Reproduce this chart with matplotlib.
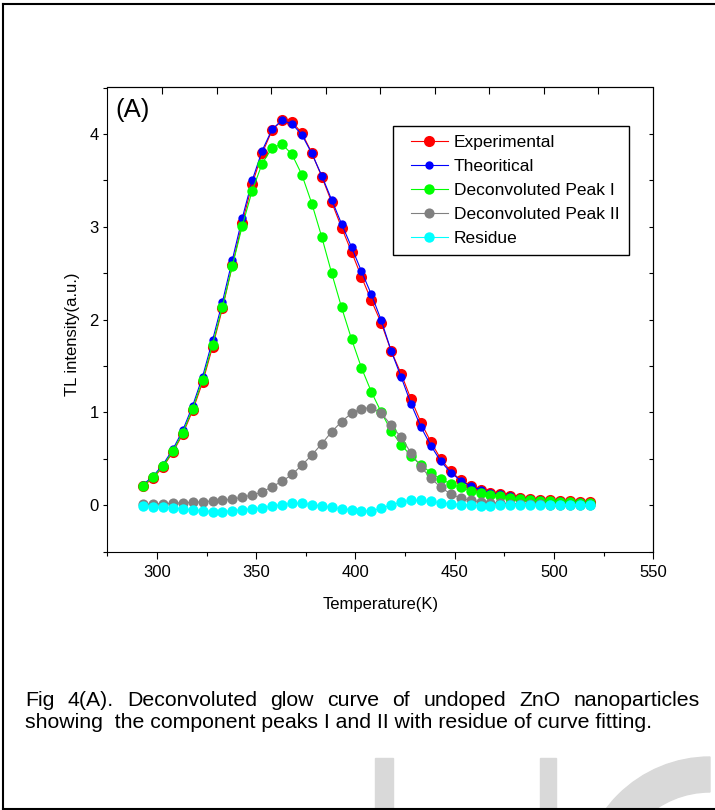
import numpy as np
import matplotlib.pyplot as plt
from matplotlib.patches import Rectangle, Wedge
from matplotlib.lines import Line2D
from matplotlib.legend_handler import HandlerLine2D
from matplotlib.ticker import MultipleLocator

plt.rcParams['font.family'] = ['Liberation Sans', 'DejaVu Sans']

# temperature grid (K)
temp = [293, 298, 303, 308, 313, 318, 323, 328, 333, 338, 343, 348, 353, 358, 363, 368,
        373, 378, 383, 388, 393, 398, 403, 408, 413, 418, 423, 428, 433, 438, 443, 448,
        453, 458, 463, 468, 473, 478, 483, 488, 493, 498, 503, 508, 513, 518]

experimental = [0.205, 0.29, 0.41, 0.57, 0.765, 1.02, 1.325, 1.705, 2.12, 2.585, 3.045, 3.46,
                3.79, 4.04, 4.15, 4.13, 4.01, 3.795, 3.54, 3.265, 2.99, 2.73, 2.46, 2.205,
                1.96, 1.66, 1.415, 1.14, 0.89, 0.68, 0.495, 0.365, 0.27, 0.205, 0.16, 0.13,
                0.115, 0.10, 0.08, 0.07, 0.06, 0.05, 0.045, 0.04, 0.035, 0.03]

theoretical = [0.22, 0.31, 0.435, 0.60, 0.805, 1.07, 1.385, 1.775, 2.19, 2.645, 3.095, 3.50,
               3.82, 4.05, 4.145, 4.11, 3.99, 3.79, 3.55, 3.29, 3.03, 2.78, 2.52, 2.27,
               1.99, 1.66, 1.38, 1.09, 0.84, 0.64, 0.47, 0.35, 0.265, 0.205, 0.165, 0.135,
               0.115, 0.095, 0.075, 0.065, 0.055, 0.045, 0.04, 0.035, 0.03, 0.025]

peak1 = [0.21, 0.30, 0.42, 0.58, 0.78, 1.04, 1.35, 1.73, 2.14, 2.58, 3.01, 3.39,
         3.68, 3.85, 3.89, 3.78, 3.56, 3.25, 2.89, 2.50, 2.13, 1.79, 1.48, 1.22,
         1.00, 0.80, 0.65, 0.53, 0.43, 0.35, 0.28, 0.23, 0.19, 0.155, 0.13, 0.11,
         0.095, 0.08, 0.065, 0.055, 0.045, 0.04, 0.035, 0.03, 0.025, 0.02]

peak2 = [0.01, 0.01, 0.015, 0.02, 0.025, 0.03, 0.035, 0.045, 0.05, 0.065, 0.085, 0.11,
         0.14, 0.20, 0.255, 0.33, 0.43, 0.54, 0.66, 0.79, 0.90, 0.99, 1.04, 1.05,
         0.99, 0.86, 0.73, 0.56, 0.41, 0.29, 0.19, 0.12, 0.075, 0.05, 0.035, 0.025,
         0.02, 0.015, 0.01, 0.01, 0.01, 0.005, 0.005, 0.005, 0.005, 0.005]

residue = [-0.015, -0.02, -0.025, -0.03, -0.04, -0.05, -0.06, -0.07, -0.07, -0.06, -0.05, -0.04,
           -0.03, -0.01, 0.005, 0.02, 0.02, 0.005, -0.01, -0.025, -0.04, -0.05, -0.06, -0.065,
           -0.03, 0.0, 0.035, 0.05, 0.05, 0.04, 0.025, 0.015, 0.005, 0.0, -0.005, -0.005,
           0.0, 0.005, 0.005, 0.005, 0.005, 0.005, 0.005, 0.005, 0.005, 0.005]

# the mirrored top axis of the original has its own (odd) tick spacing
top_ticks = [302.7, 330.1, 357.4, 385.0, 412.3, 439.8, 467.2, 494.7, 522.1]

W, H = 715, 810
fig = plt.figure(figsize=(W / 100, H / 100), dpi=100)
ax = fig.add_axes([107.3 / W, 1 - 551.5 / H, 546 / W, 464 / H])

ax.plot(temp, experimental, '-o', color='red', lw=0.8, ms=8.0, mew=0, label='Experimental')
ax.plot(temp, theoretical, '-o', color='blue', lw=0.8, ms=6.0, mew=0, label='Theoritical')
ax.plot(temp, peak1, '-o', color='#00ff00', lw=0.8, ms=7.5, mew=0, label='Deconvoluted Peak I')
ax.plot(temp, peak2, '-o', color='gray', lw=0.8, ms=7.3, mew=0, label='Deconvoluted Peak II')
ax.plot(temp, residue, '-o', color='cyan', lw=0.8, ms=7.5, mew=0, label='Residue')

ax.set_xlim(275, 550)
ax.set_ylim(-0.5, 4.5)
ax.set_xticks([300, 350, 400, 450, 500, 550])
ax.set_yticks([0, 1, 2, 3, 4])
ax.xaxis.set_minor_locator(MultipleLocator(25))
ax.yaxis.set_minor_locator(MultipleLocator(0.5))
ax.tick_params(which='both', direction='out', width=0.8, labelsize=12)
ax.tick_params(axis='x', which='major', length=5, pad=5)
ax.tick_params(axis='x', which='minor', length=3)
ax.tick_params(axis='y', which='major', length=3.2, pad=3)
ax.tick_params(axis='y', which='minor', length=2.6)

top = ax.secondary_xaxis('top')
top.set_xticks(top_ticks)
top.tick_params(direction='in', length=5, width=0.8, labeltop=False)
right = ax.secondary_yaxis('right')
right.set_yticks([-0.5, 0, 0.5, 1, 1.5, 2, 2.5, 3, 3.5, 4])
right.tick_params(direction='in', length=3, width=0.8, labelright=False)

ax.set_xlabel('Temperature(K)', fontsize=12, labelpad=12)
ax.set_ylabel('TL intensity(a.u.)', fontsize=12)
ax.yaxis.set_label_coords(-0.05, 0.469)

ax.text(0.014, 0.951, '(A)', transform=ax.transAxes, fontsize=18.5, va='center')

leg = ax.legend(loc='upper left', bbox_to_anchor=(0.5238, 0.917), borderaxespad=0,
                fancybox=False, edgecolor='black', framealpha=1, fontsize=12.5,
                handlelength=2.64, handletextpad=0.33, labelspacing=0.5, borderpad=0.53,
                handler_map={Line2D: HandlerLine2D(xpad=0.47)})
leg.get_frame().set_linewidth(1.0)


def px(x, y):
    return x / W, 1 - y / H


# caption, first line justified
renderer = fig.canvas.get_renderer()
words = 'Fig 4(A). Deconvoluted glow curve of undoped ZnO nanoparticles'.split()
texts = [fig.text(0, px(0, 701)[1], w, fontsize=15.3, va='center') for w in words]
widths = [t.get_window_extent(renderer).width for t in texts]
gap = (700 - 25 - sum(widths)) / (len(words) - 1)
xx = 25
for t, w in zip(texts, widths):
    t.set_x(xx / W)
    xx += w + gap
fig.text(25 / W, px(0, 723)[1], 'showing  the component peaks I and II with residue of curve fitting.',
         fontsize=15.3, va='center')

# page border
fig.add_artist(Line2D([px(2.5, 0)[0]] * 2, [px(0, 4)[1], px(0, 809)[1]], color='black', lw=1.5))
fig.add_artist(Line2D([px(2.5, 0)[0], 1], [px(0, 4)[1]] * 2, color='black', lw=1.5))
fig.add_artist(Line2D([px(2.5, 0)[0], 1], [px(0, 809)[1]] * 2, color='black', lw=1.5))

# watermark fragments at the bottom
wm = '#d9d9d9'
fig.add_artist(Rectangle(px(375, 810), 18 / W, 52 / H, color=wm, zorder=0))
fig.add_artist(Rectangle(px(540, 810), 16 / W, 52 / H, color=wm, zorder=0))
fig.add_artist(Wedge((710, H - 887), 130, 90, 180, width=35, color=wm, zorder=0, transform=None))

fig.savefig('out.png', dpi=100)
